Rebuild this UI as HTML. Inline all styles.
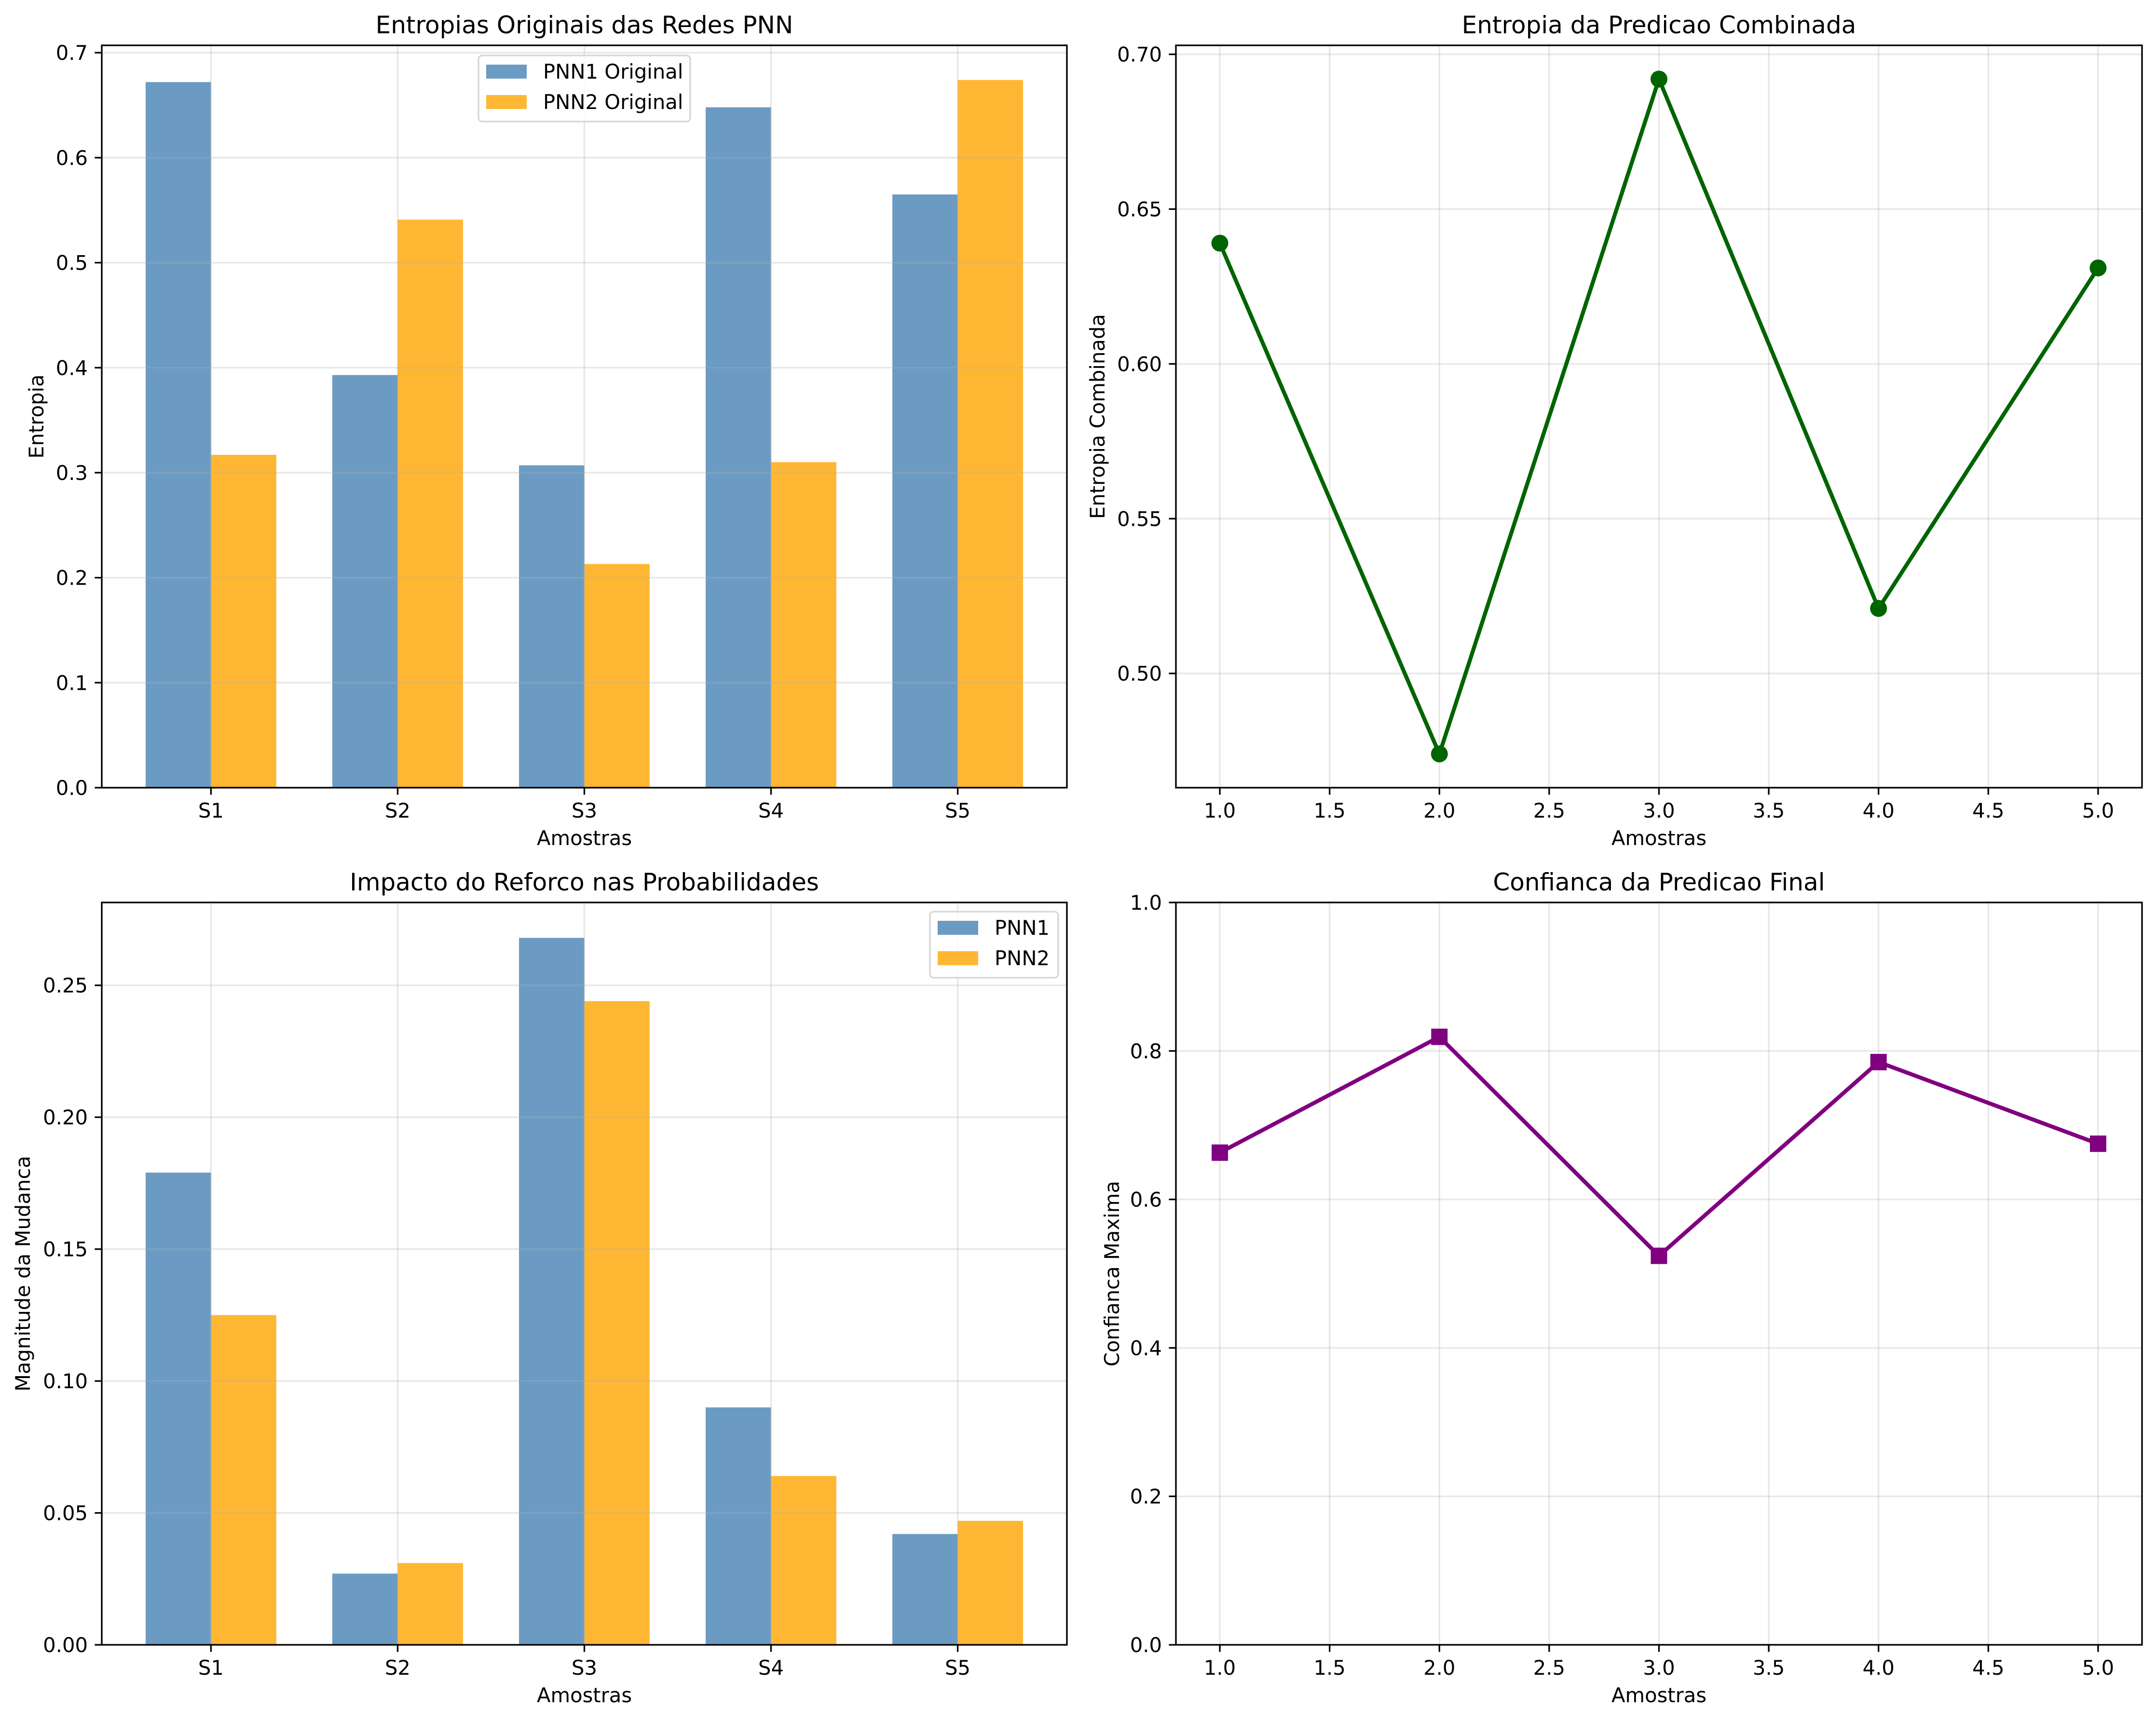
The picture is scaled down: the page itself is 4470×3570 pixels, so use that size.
<!DOCTYPE html>
<html><head><meta charset="utf-8"><style>
html,body{margin:0;padding:0;background:#fff}
svg{display:block;font-family:"DejaVu Sans","Liberation Sans",sans-serif}
</style></head><body>
<svg id="fig" xmlns="http://www.w3.org/2000/svg" width="4470" height="3570" viewBox="0 0 4470 3570"></svg>
<script>
const categories = ["S1","S2","S3","S4","S5"];
const entropyPnn1 = [0.672,0.393,0.307,0.648,0.565];
const entropyPnn2 = [0.317,0.541,0.213,0.310,0.674];
const combinedX = [1,2,3,4,5];
const combinedEntropy = [0.639,0.474,0.692,0.521,0.631];
const impactPnn1 = [0.179,0.027,0.268,0.090,0.042];
const impactPnn2 = [0.125,0.031,0.244,0.064,0.047];
const confidence = [0.663,0.819,0.524,0.785,0.675];
const ticksTL = ["0.0","0.1","0.2","0.3","0.4","0.5","0.6","0.7"];
const ticksTR = ["0.50","0.55","0.60","0.65","0.70"];
const ticksBL = ["0.00","0.05","0.10","0.15","0.20","0.25"];
const ticksBR = ["0.0","0.2","0.4","0.6","0.8","1.0"];
const ticksLineX = ["1.0","1.5","2.0","2.5","3.0","3.5","4.0","4.5","5.0"];

const NS="http://www.w3.org/2000/svg";
const svg=document.getElementById('fig');
function el(tag,attrs,parent){const e=document.createElementNS(NS,tag);for(const k in attrs)e.setAttribute(k,attrs[k]);(parent||svg).appendChild(e);return e;}
function txt(s,attrs,parent){const e=el('text',attrs,parent);e.textContent=s;return e;}
const BLUE="#6b9bc3",ORANGE="#ffb733",FS=41.7;

function makeAxes(name,L,T,R,B,xmin,xmax,ymin,ymax){
  const g=el('g',{});
  
  
  const sx=v=>L+(v-xmin)/(xmax-xmin)*(R-L);
  const sy=v=>B-(v-ymin)/(ymax-ymin)*(B-T);
  return {g,sx,sy,L,T,R,B};
}
function gridAndTicks(ax,xt,xl,yt,yl){
  const g=ax.g;
  xt.forEach((v,i)=>{const x=ax.sx(v);
    const gl=el('line',{x1:x,x2:x,y1:ax.T,y2:ax.B,stroke:'#b0b0b0','stroke-opacity':0.3,'stroke-width':3.3},g);
    
    
  });
  yt.forEach((v,i)=>{const y=ax.sy(v);
    const gl=el('line',{x1:ax.L,x2:ax.R,y1:y,y2:y,stroke:'#b0b0b0','stroke-opacity':0.3,'stroke-width':3.3},g);
    
    
  });
}
function frame(ax,xt,xl,yt,yl,title,xlabel,ylabel){
  const g=ax.g;
  xt.forEach((v,i)=>{const x=ax.sx(v);
    el('line',{x1:x,x2:x,y1:ax.B,y2:ax.B+14.6,stroke:'#000','stroke-width':3.3},g);
    const t=txt(xl[i],{x:x,y:ax.B+62,'font-size':FS,'text-anchor':'middle'},g);
    
    
  });
  yt.forEach((v,i)=>{const y=ax.sy(v);
    el('line',{x1:ax.L-14.6,x2:ax.L,y1:y,y2:y,stroke:'#000','stroke-width':3.3},g);
    const t=txt(yl[i],{x:ax.L-29,y:y+15,'font-size':FS,'text-anchor':'end'},g);
    
    
  });
  const r=el('rect',{x:ax.L,y:ax.T,width:ax.R-ax.L,height:ax.B-ax.T,fill:'none',stroke:'#000','stroke-width':3.3},g);
  
  
  const t=txt(title,{x:(ax.L+ax.R)/2,y:ax.T-25,'font-size':50,'text-anchor':'middle'},g);
  
  
  const xlab=txt(xlabel,{x:(ax.L+ax.R)/2,y:ax.B+119,'font-size':FS,'text-anchor':'middle'},g);
  
  
  const cy=(ax.T+ax.B)/2;
  const ylab=txt(ylabel,{x:ax.yLabelX,y:cy,'font-size':FS,'text-anchor':'middle',transform:`rotate(-90 ${ax.yLabelX} ${cy})`},g);
  
  
}
function legend(g,x,y,w,h,items){
  const lg=el('g',{},g);
  
  
  el('rect',{x:x,y:y,width:w,height:h,rx:8,fill:'#fff','fill-opacity':0.8,stroke:'#d6d6d6','stroke-width':3.3},lg);
  items.forEach((it,i)=>{
    const e=el('g',{},lg);
    
    
    el('rect',{x:x+16,y:y+19+i*63,width:84,height:29,fill:it.c},e);
    txt(it.t,{x:x+134,y:y+48+i*63,'font-size':FS},e);
  });
}
function bars(ax,v1,v2,n1,n2){
  const w=0.35;
  categories.forEach((c,i)=>{
    const b1=el('rect',{x:ax.sx(i-w),y:ax.sy(v1[i]),width:ax.sx(i)-ax.sx(i-w),height:ax.sy(0)-ax.sy(v1[i]),fill:BLUE},ax.g);
    
    
    const b2=el('rect',{x:ax.sx(i),y:ax.sy(v2[i]),width:ax.sx(i+w)-ax.sx(i),height:ax.sy(0)-ax.sy(v2[i]),fill:ORANGE},ax.g);
    
    
  });
}
const idx=[0,1,2,3,4];
const lineXt=[1,1.5,2,2.5,3,3.5,4,4.5,5];

// Top-left
let a=makeAxes('entropy-bar-chart',211,94,2212,1633,-0.585,4.585,0,0.707);
a.yLabelX=90;
bars(a,entropyPnn1,entropyPnn2,'pnn1','pnn2');
let yt=ticksTL.map(Number);
gridAndTicks(a,idx,categories,yt,ticksTL);
frame(a,idx,categories,yt,ticksTL,'Entropias Originais das Redes PNN','Amostras','Entropia');
legend(a.g,992,115,439,137,[{c:BLUE,t:'PNN1 Original'},{c:ORANGE,t:'PNN2 Original'}]);

// Top-right
a=makeAxes('combined-entropy-chart',2438,94,4441,1633,0.8,5.2,0.4631,0.7029);
a.yLabelX=2290;
yt=ticksTR.map(Number);
gridAndTicks(a,lineXt,ticksLineX,yt,ticksTR);
let pts=combinedX.map((x,i)=>a.sx(x)+','+a.sy(combinedEntropy[i])).join(' ');
let pl=el('polyline',{points:pts,fill:'none',stroke:'#006400','stroke-width':8.3,'stroke-linejoin':'round'},a.g);


combinedX.forEach((x,i)=>{
  const c=el('circle',{cx:a.sx(x),cy:a.sy(combinedEntropy[i]),r:17.5,fill:'#006400'},a.g);
  
  
});
frame(a,lineXt,ticksLineX,yt,ticksTR,'Entropia da Predicao Combinada','Amostras','Entropia Combinada');

// Bottom-left
a=makeAxes('impact-bar-chart',211,1871,2212,3410,-0.585,4.585,0,0.2814);
a.yLabelX=62;
bars(a,impactPnn1,impactPnn2,'pnn1','pnn2');
yt=ticksBL.map(Number);
gridAndTicks(a,idx,categories,yt,ticksBL);
frame(a,idx,categories,yt,ticksBL,'Impacto do Reforco nas Probabilidades','Amostras','Magnitude da Mudanca');
legend(a.g,1928,1890,266,137,[{c:BLUE,t:'PNN1'},{c:ORANGE,t:'PNN2'}]);

// Bottom-right
a=makeAxes('confidence-chart',2438,1871,4441,3410,0.8,5.2,0,1);
a.yLabelX=2320;
yt=ticksBR.map(Number);
gridAndTicks(a,lineXt,ticksLineX,yt,ticksBR);
pts=combinedX.map((x,i)=>a.sx(x)+','+a.sy(confidence[i])).join(' ');
pl=el('polyline',{points:pts,fill:'none',stroke:'#800080','stroke-width':8.3,'stroke-linejoin':'round'},a.g);


combinedX.forEach((x,i)=>{
  const s=el('rect',{x:a.sx(x)-17,y:a.sy(confidence[i])-17,width:34,height:34,fill:'#800080'},a.g);
  
  
});
frame(a,lineXt,ticksLineX,yt,ticksBR,'Confianca da Predicao Final','Amostras','Confianca Maxima');
</script>
</body></html>
